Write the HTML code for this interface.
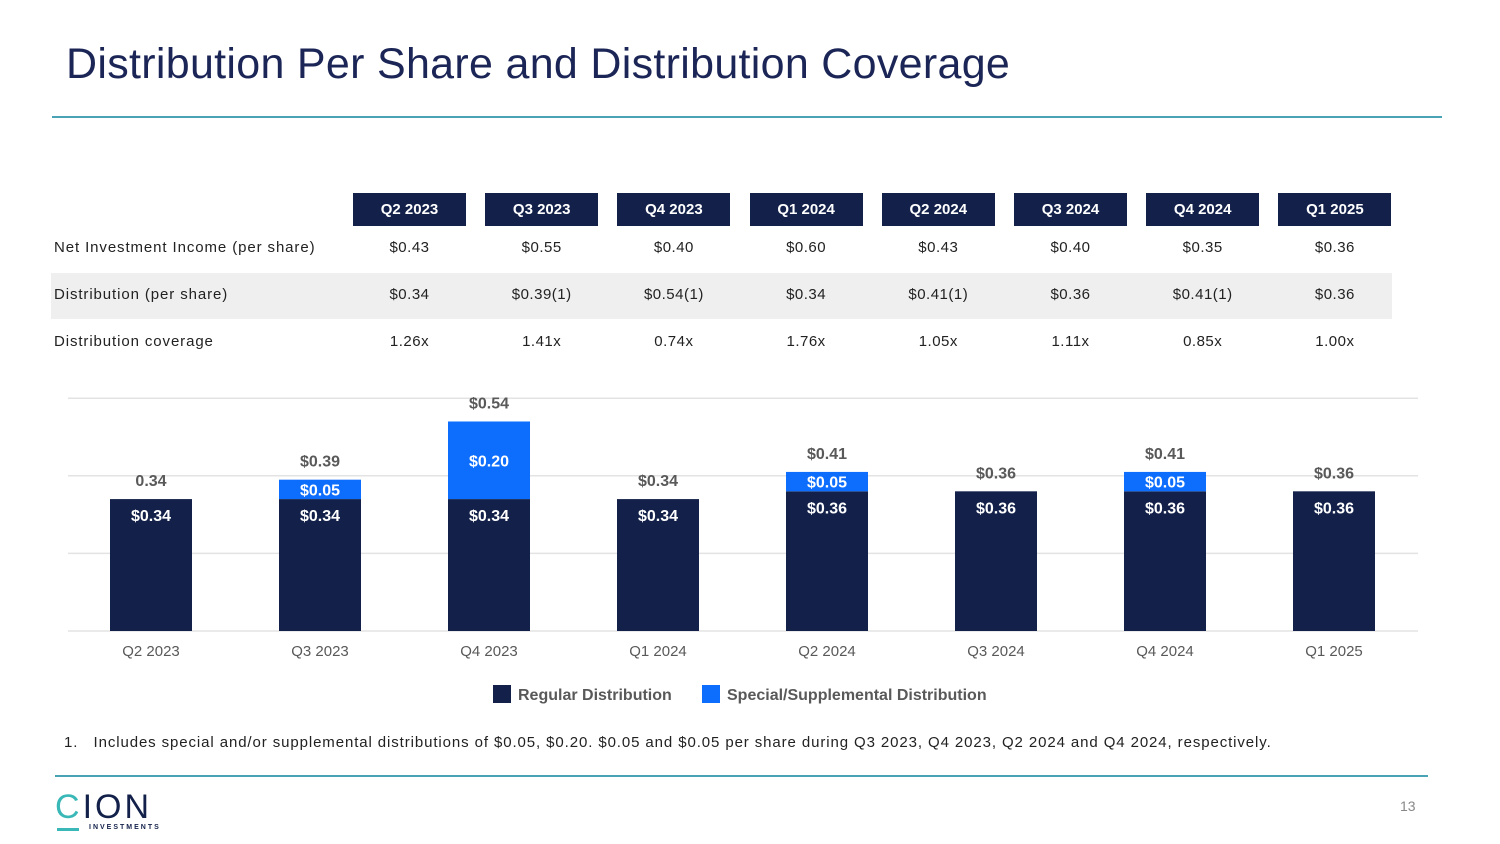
<!DOCTYPE html>
<html><head><meta charset="utf-8"><style>
body{margin:0;width:1500px;height:844px;background:#fff;font-family:"Liberation Sans",sans-serif;position:relative;overflow:hidden}
.abs{position:absolute}
.hdr{position:absolute;top:193px;width:113px;height:33px;background:#13214a;color:#fff;font-weight:bold;font-size:15px;text-align:center;line-height:33px}
.cell{position:absolute;width:113px;text-align:center;font-size:15px;color:#222;letter-spacing:0.5px}
.rl{position:absolute;left:54px;font-size:15px;color:#222;letter-spacing:0.9px}
</style></head><body>
<div class="abs" style="left:66px;top:40px;font-size:43px;letter-spacing:0.3px;color:#1b2556">Distribution Per Share and Distribution Coverage</div>
<div class="abs" style="left:52px;top:116px;width:1390px;height:2px;background:#4aa3b5"></div>
<div class="abs" style="left:51px;top:273px;width:1341px;height:46px;background:#efefef"></div>
<div id="tbl"></div>
<div class="rl" style="top:239px">Net Investment Income (per share)</div>
<div class="rl" style="top:286px">Distribution (per share)</div>
<div class="rl" style="top:333px">Distribution coverage</div>
<svg class="abs" id="chart" style="left:0;top:380px" width="1500" height="340"></svg>
<div class="abs" style="left:64px;top:734px;font-size:15px;letter-spacing:0.9px;color:#222">1.&nbsp;&nbsp;&nbsp;Includes special and/or supplemental distributions of $0.05, $0.20. $0.05 and $0.05 per share during Q3 2023, Q4 2023, Q2 2024 and Q4 2024, respectively.</div>
<div class="abs" style="left:55px;top:775px;width:1373px;height:2px;background:#4aa3b5"></div>
<div class="abs" style="left:55px;top:790px">
<div style="font-size:34px;letter-spacing:3px;color:#13214a;line-height:34px"><span style="color:#3ab8b8">C</span>ION</div>
<div style="position:absolute;left:2px;top:38px;width:22px;height:3px;background:#3ab8b8"></div>
<div style="position:absolute;left:34px;top:34px;font-size:7px;letter-spacing:2px;color:#13214a;font-weight:bold">INVESTMENTS</div>
</div>
<div class="abs" style="left:1400px;top:798px;font-size:14px;color:#888">13</div>
<script>
const quarters=["Q2 2023","Q3 2023","Q4 2023","Q1 2024","Q2 2024","Q3 2024","Q4 2024","Q1 2025"];
const nii=["$0.43","$0.55","$0.40","$0.60","$0.43","$0.40","$0.35","$0.36"];
const dist=["$0.34","$0.39(1)","$0.54(1)","$0.34","$0.41(1)","$0.36","$0.41(1)","$0.36"];
const coverage=["1.26x","1.41x","0.74x","1.76x","1.05x","1.11x","0.85x","1.00x"];
const regular=[0.34,0.34,0.34,0.34,0.36,0.36,0.36,0.36];
const special=[0,0.05,0.20,0,0.05,0,0.05,0];
const totalLabels=["0.34","$0.39","$0.54","$0.34","$0.41","$0.36","$0.41","$0.36"];
const yTicks=[0,0.2,0.4,0.6];

const tbl=document.getElementById('tbl');
quarters.forEach((q,i)=>{
  const x=353+i*132.2;
  const h=document.createElement('div');h.className='hdr';h.style.left=x+'px';h.textContent=q;
  
  
  tbl.appendChild(h);
  [[nii,239],[dist,286],[coverage,333]].forEach(([arr,t])=>{
    const c=document.createElement('div');c.className='cell';c.style.left=x+'px';c.style.top=t+'px';c.textContent=arr[i];
    
    
    tbl.appendChild(c);
  });
});

const svg=document.getElementById('chart');const NS='http://www.w3.org/2000/svg';
const base=251, k=388;
const y=v=>base-v*k; const cx=i=>151+i*169;
function el(t,a,txt){const e=document.createElementNS(NS,t);for(const n in a)e.setAttribute(n,a[n]);if(txt!=null)e.textContent=txt;svg.appendChild(e);return e;}
yTicks.forEach(v=>{const g=el('line',{x1:68,x2:1418,y1:y(v),y2:y(v),stroke:'#e3e3e3','stroke-width':1.5});

});
quarters.forEach((q,i)=>{
  const r=el('rect',{x:cx(i)-41,y:y(regular[i]),width:82,height:regular[i]*k,fill:'#13214a'});
  
  
  const rt=el('text',{x:cx(i),y:y(regular[i])+22,'text-anchor':'middle',fill:'#fff','font-size':16,'font-weight':'bold'},'$'+regular[i].toFixed(2));
  
  
  const tot=regular[i]+special[i];
  if(special[i]>0){
    const s=el('rect',{x:cx(i)-41,y:y(tot),width:82,height:special[i]*k,fill:'#0d6efd'});
    
    
    const st=el('text',{x:cx(i),y:(y(tot)+y(regular[i]))/2+6,'text-anchor':'middle',fill:'#fff','font-size':16,'font-weight':'bold'},'$'+special[i].toFixed(2));
    
    
  }
  const tt=el('text',{x:cx(i),y:y(tot)-13,'text-anchor':'middle',fill:'#595959','font-size':16,'font-weight':'bold'},totalLabels[i]);
  
  
  const xl=el('text',{x:cx(i),y:276,'text-anchor':'middle',fill:'#595959','font-size':15},q);
  
  
});
const l1=el('rect',{x:493,y:305,width:18,height:18,fill:'#13214a'});


const l1t=el('text',{x:518,y:320,fill:'#595959','font-size':16,'font-weight':'bold'},'Regular Distribution');


const l2=el('rect',{x:702,y:305,width:18,height:18,fill:'#0d6efd'});


const l2t=el('text',{x:727,y:320,fill:'#595959','font-size':16,'font-weight':'bold'},'Special/Supplemental Distribution');


</script>
</body></html>
